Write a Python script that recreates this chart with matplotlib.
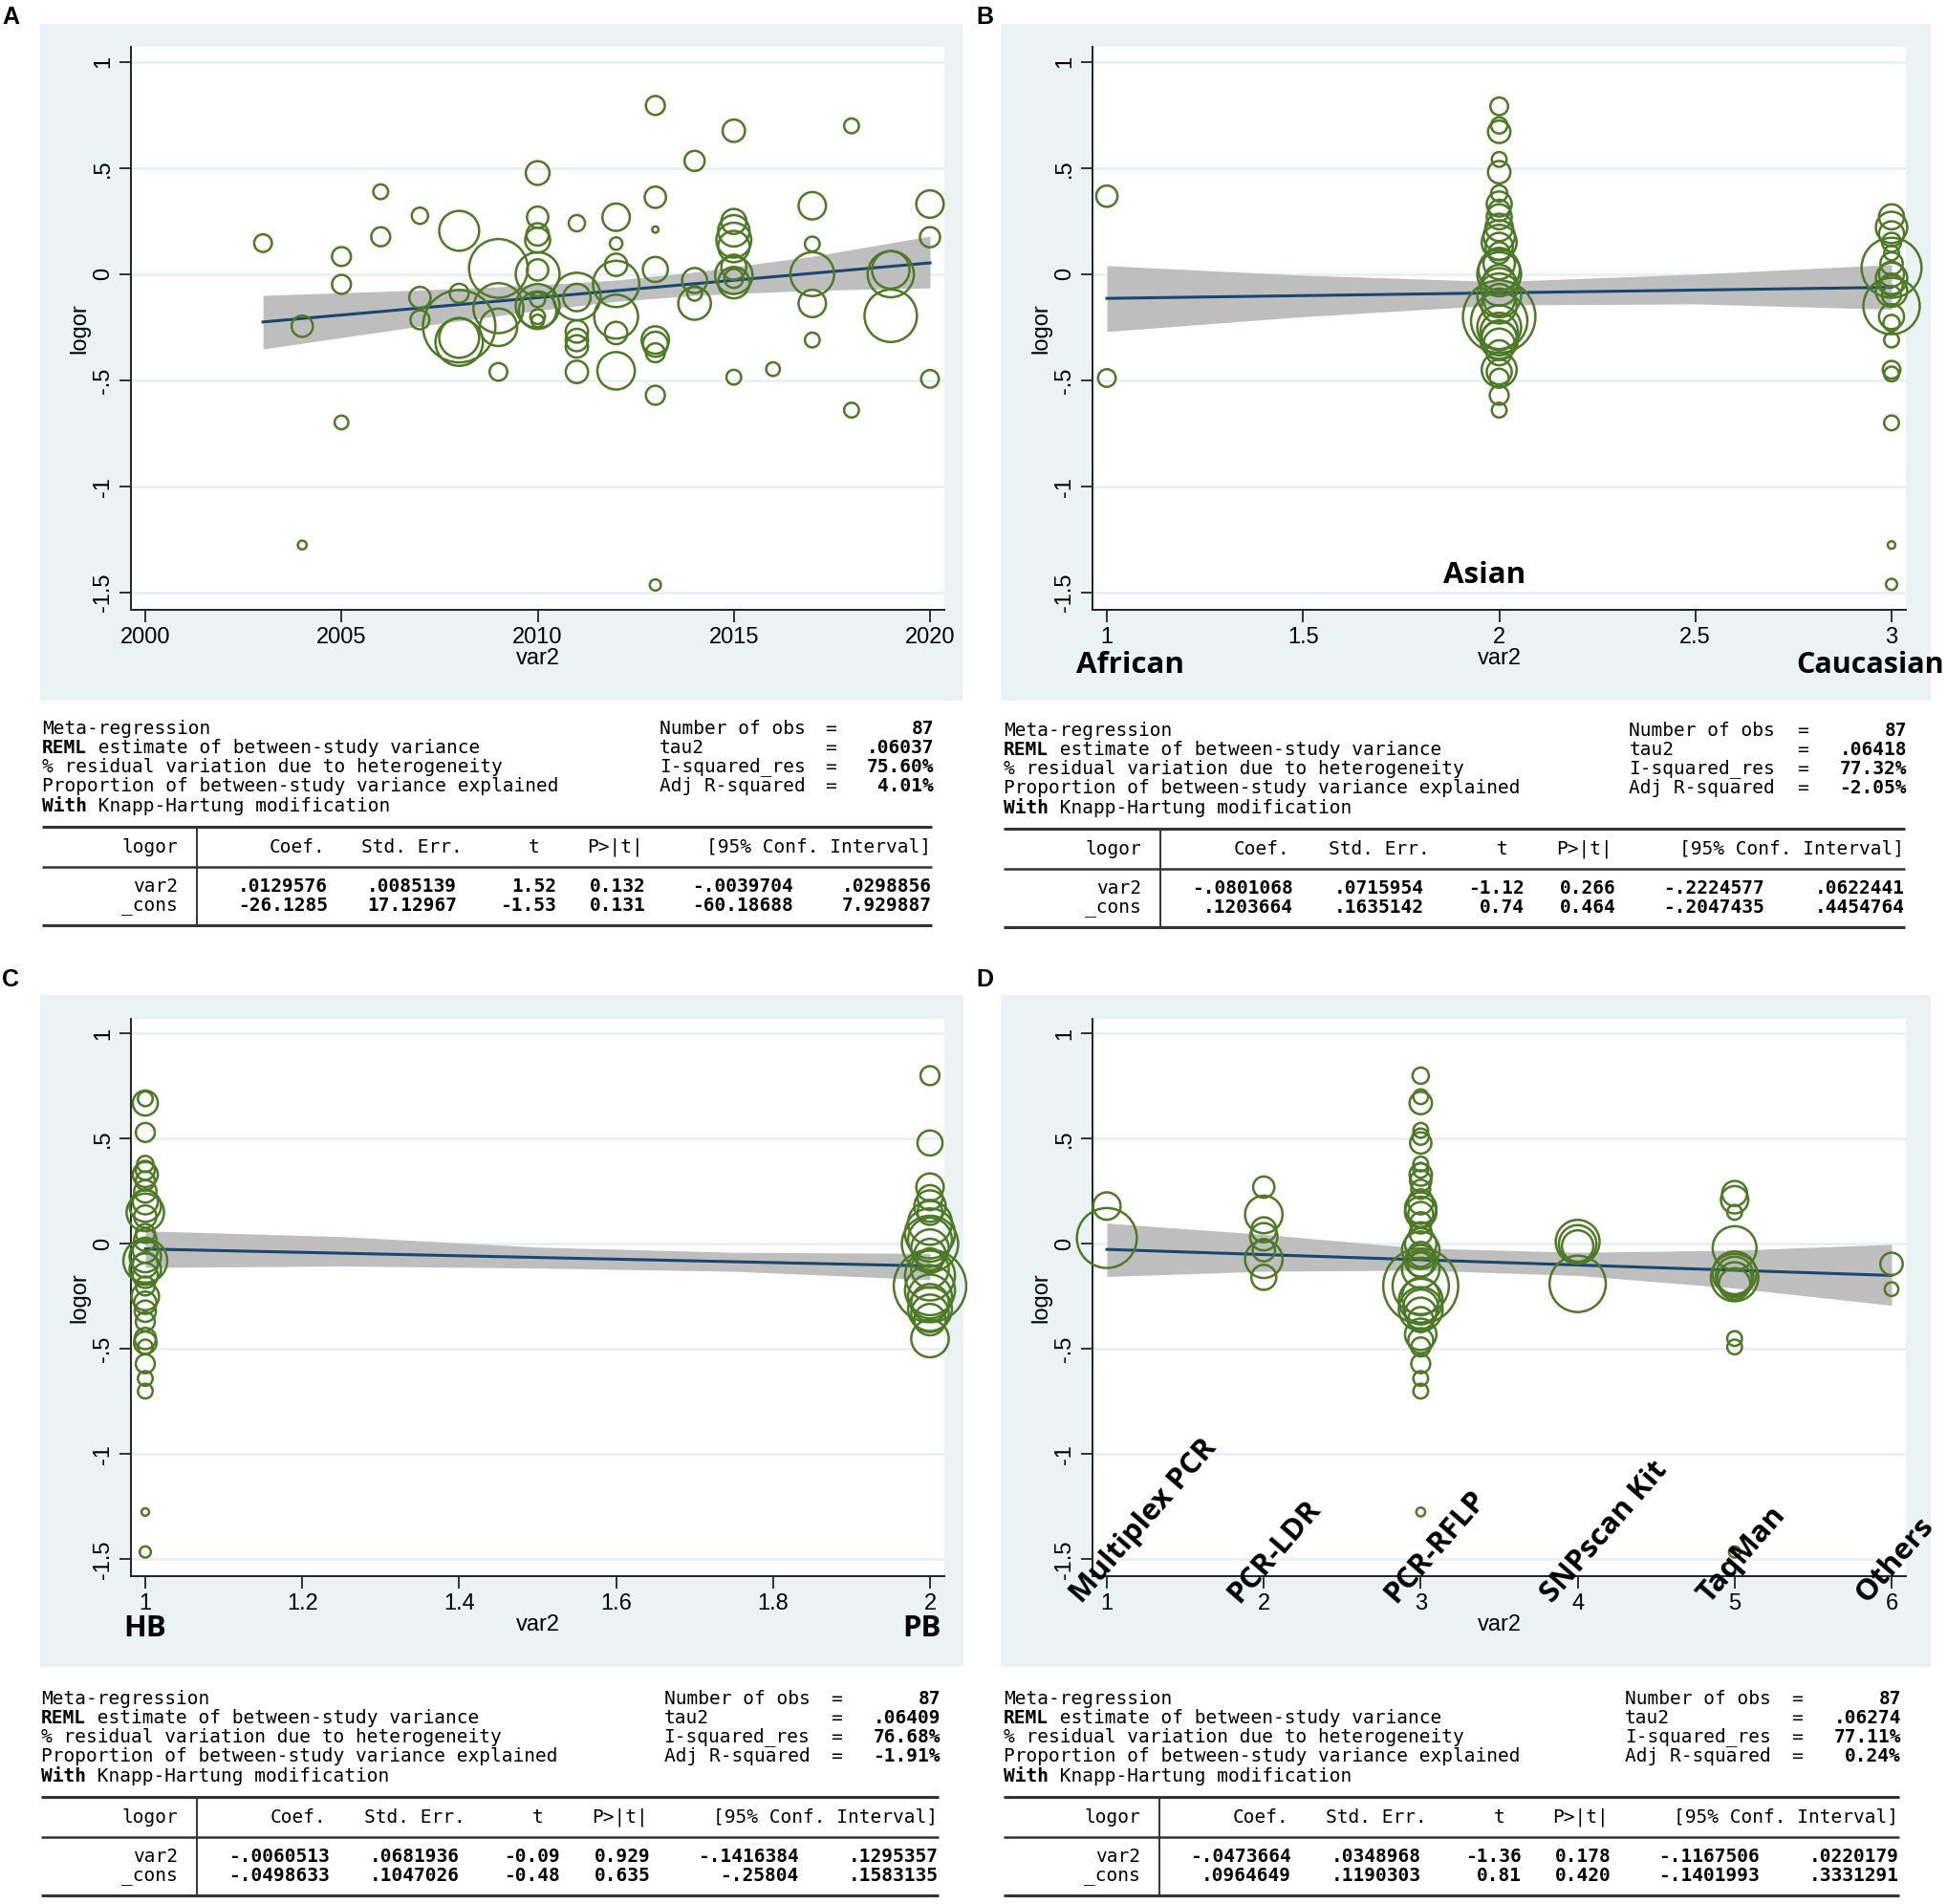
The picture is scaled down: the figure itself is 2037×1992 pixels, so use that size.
import matplotlib
matplotlib.use('Agg')
import matplotlib.pyplot as plt
import matplotlib.transforms as mtransforms
from matplotlib.patches import Rectangle
import numpy as np

W, H = 2037, 1992
GREEN = '#4e7a27'
NAVY = '#1a476f'
BAND = '#bebebe'
BG = '#eaf2f3'
GRID = '#e6eff1'
TICKFONT = ['Liberation Sans', 'DejaVu Sans']
CATFONT = ['Open Sans', 'DejaVu Sans']
MONO = ['DejaVu Sans Mono']

# ---------------- Panel A data (var2 = year) ----------------
a_year = [2003, 2004, 2004, 2005, 2005, 2005, 2006, 2006, 2007, 2007, 2007,
          2008, 2008, 2008, 2008, 2008, 2009, 2009, 2009, 2009,
          2010, 2010, 2010, 2010, 2010, 2010, 2010, 2010, 2010, 2010, 2010,
          2011, 2011, 2011, 2011, 2011, 2011, 2011,
          2012, 2012, 2012, 2012, 2012, 2012, 2012,
          2013, 2013, 2013, 2013, 2013, 2013, 2013, 2013, 2013,
          2014, 2014, 2014, 2014,
          2015, 2015, 2015, 2015, 2015, 2015, 2015, 2015, 2015, 2015,
          2016, 2017, 2017, 2017, 2017, 2017, 2018, 2018,
          2019, 2019, 2019, 2020, 2020, 2020]
a_logor = [0.146, -0.245, -1.275, 0.083, -0.048, -0.698, 0.388, 0.176, 0.275, -0.11, -0.215,
           0.204, -0.09, -0.245, -0.32, -0.30, 0.027, -0.16, -0.25, -0.46,
           0.476, 0.268, 0.187, 0.16, 0.02, 0.0, -0.12, -0.15, -0.17, -0.2, -0.22,
           0.24, -0.105, -0.11, -0.27, -0.31, -0.34, -0.46,
           0.268, 0.144, 0.044, -0.046, -0.2, -0.277, -0.455,
           0.794, 0.362, 0.21, 0.022, -0.31, -0.33, -0.37, -0.57, -1.463,
           0.533, -0.03, -0.09, -0.138,
           0.675, 0.248, 0.204, 0.16, 0.13, 0.033, -0.005, -0.02, -0.04, -0.485,
           -0.447, 0.322, 0.142, 0.0, -0.138, -0.31, 0.698, -0.64,
           0.0, 0.02, -0.196, 0.33, 0.174, -0.493]
a_w = [2.0, 2.9, 0.5, 2.3, 2.3, 1.2, 1.4, 2.3, 1.7, 2.9, 2.3,
       10.2, 2.3, 33.6, 14.4, 10.2, 22.1, 16.0, 9.0, 2.0,
       3.6, 2.9, 3.2, 4.0, 2.9, 12.3, 1.4, 12.3, 9.0, 1.4, 1.0,
       1.7, 14.4, 4.8, 3.2, 3.2, 3.2, 3.2,
       4.8, 1.0, 3.2, 13.7, 12.3, 3.2, 9.0,
       2.3, 2.9, 0.25, 4.0, 4.8, 4.0, 2.3, 2.3, 0.8,
       2.6, 4.0, 1.4, 6.8,
       3.2, 4.0, 6.3, 7.8, 6.3, 4.0, 9.0, 2.3, 6.3, 1.4,
       1.2, 4.8, 1.4, 12.3, 4.8, 1.4, 1.4, 1.4,
       13.7, 9.0, 17.6, 4.8, 2.6, 2.0]
a_line_x = [2003, 2020]
a_line_y = [-0.225, 0.053]
a_band_x = [2003, 2007, 2010, 2012, 2014, 2017, 2020]
a_band_lo = [-0.352, -0.245, -0.171, -0.128, -0.100, -0.076, -0.065]
a_band_hi = [-0.100, -0.075, -0.051, -0.028, 0.010, 0.084, 0.179]

# ---------------- Panel B data (ethnicity) ----------------
b_cat = ['African', 'Asian', 'Caucasian']
b_african_y = [0.367, -0.489]
b_african_w = [2.9, 2.0]
b_asian_y = [0.79, 0.70, 0.67, 0.54, 0.48, 0.38, 0.33, 0.30, 0.27, 0.22, 0.18, 0.15, 0.13, 0.10,
             0.05, 0.02, 0.0, -0.03, -0.06, -0.10, -0.12, -0.15, -0.20, -0.22, -0.25, -0.27,
             -0.30, -0.31, -0.33, -0.37, -0.45, -0.46, -0.49, -0.57, -0.64]
b_asian_w = [2.0, 1.7, 3.2, 1.4, 3.2, 1.7, 4.0, 2.9, 4.0, 4.8, 6.3, 7.8, 4.8, 2.9,
             6.3, 10.9, 12.3, 6.3, 9.0, 12.3, 6.3, 7.8, 33.6, 20.3, 12.3, 9.0,
             7.8, 9.0, 6.3, 4.0, 7.8, 4.0, 2.3, 2.3, 1.4]
b_cauc_y = [0.27, 0.22, 0.19, 0.15, 0.10, 0.05, 0.03, 0.0, -0.02, -0.05, -0.08, -0.10, -0.15,
            -0.20, -0.23, -0.31, -0.45, -0.47, -0.70, -1.275, -1.46]
b_cauc_w = [4.0, 6.3, 4.0, 2.3, 1.4, 3.2, 23.0, 4.0, 6.3, 3.2, 6.3, 2.3, 20.3,
            4.0, 1.7, 1.4, 2.0, 1.4, 1.4, 0.36, 0.8]
b_line_x = [1, 3]
b_line_y = [-0.114, -0.062]
b_band_x = [1, 1.5, 2, 2.5, 3]
b_band_lo = [-0.27, -0.20, -0.145, -0.14, -0.165]
b_band_hi = [0.04, -0.005, -0.035, 0.0, 0.045]

# ---------------- Panel C data (source of controls) ----------------
c_cat = ['HB', 'PB']
c_hb_y = [0.69, 0.67, 0.53, 0.38, 0.35, 0.33, 0.30, 0.25, 0.20, 0.18, 0.15, 0.13, 0.05, 0.02,
          -0.03, -0.06, -0.08, -0.10, -0.12, -0.15, -0.20, -0.25, -0.28, -0.32, -0.37,
          -0.45, -0.47, -0.49, -0.57, -0.64, -0.70, -1.275, -1.465]
c_hb_w = [1.4, 4.0, 2.3, 1.7, 2.3, 4.0, 2.3, 3.2, 4.0, 6.3, 9.0, 3.2, 2.3, 3.2,
          4.0, 6.3, 12.3, 4.0, 6.3, 4.0, 2.3, 4.8, 3.2, 2.9, 2.3,
          2.9, 3.2, 1.4, 2.3, 1.4, 1.4, 0.36, 0.8]
c_pb_y = [0.80, 0.48, 0.27, 0.22, 0.18, 0.15, 0.10, 0.05, 0.02, 0.0, -0.02, -0.05, -0.08,
          -0.12, -0.15, -0.20, -0.22, -0.25, -0.28, -0.31, -0.33, -0.36, -0.45]
c_pb_w = [2.3, 4.0, 4.8, 4.0, 6.3, 4.0, 12.3, 16.0, 12.3, 20.3, 9.0, 6.3, 4.0,
          9.0, 16.0, 33.6, 16.0, 12.3, 9.0, 12.3, 9.0, 6.3, 9.0]
c_line_x = [1, 2]
c_line_y = [-0.024, -0.105]
c_band_x = [1, 1.25, 1.5, 1.75, 2]
c_band_lo = [-0.112, -0.105, -0.115, -0.13, -0.17]
c_band_hi = [0.062, 0.035, -0.015, -0.04, -0.045]

# ---------------- Panel D data (genotyping method) ----------------
d_cat = ['Multiplex PCR', 'PCR-LDR', 'PCR-RFLP', 'SNPscan Kit', 'TaqMan', 'Others']
d_y = [
    [0.18, 0.028],
    [0.27, 0.14, 0.067, 0.034, -0.03, -0.073, -0.159],
    [0.80, 0.70, 0.67, 0.54, 0.51, 0.48, 0.38, 0.35, 0.33, 0.30, 0.26, 0.20, 0.17, 0.15, 0.14,
     0.10, 0.05, 0.0, -0.03, -0.05, -0.08, -0.10, -0.12, -0.20, -0.20, -0.25, -0.27, -0.30,
     -0.31, -0.33, -0.36, -0.43, -0.46, -0.49, -0.57, -0.64, -0.70, -1.275],
    [0.01, 0.0, -0.01, -0.19],
    [0.24, 0.21, 0.15, -0.02, -0.14, -0.15, -0.16, -0.17, -0.19, -0.45, -0.49, -1.465],
    [-0.095, -0.215],
]
d_w = [
    [4.8, 23.0],
    [2.9, 9.0, 4.0, 4.8, 3.2, 9.0, 4.0],
    [1.7, 1.4, 3.2, 1.4, 1.7, 2.9, 1.4, 1.4, 3.2, 2.9, 2.3, 4.0, 6.3, 6.3, 4.0,
     2.9, 3.2, 6.3, 9.0, 4.0, 6.3, 4.0, 9.0, 36.0, 20.3, 9.0, 12.3, 7.8,
     12.3, 6.3, 4.0, 6.3, 4.0, 2.3, 2.3, 1.4, 1.4, 0.5],
    [12.3, 9.0, 6.3, 20.3],
    [4.0, 4.8, 1.4, 12.3, 12.3, 9.0, 14.4, 7.8, 6.3, 1.4, 1.4, 0.8],
    [3.2, 1.2],
]
d_line_x = [1, 6]
d_line_y = [-0.026, -0.15]
d_band_x = [1, 2, 3, 4, 5, 6]
d_band_lo = [-0.155, -0.13, -0.125, -0.15, -0.21, -0.292]
d_band_hi = [0.099, 0.045, -0.02, -0.04, -0.03, -0.002]

# ---------------- Tick labels ----------------
y_ticks = [-1.5, -1, -0.5, 0, 0.5, 1]
y_ticklabels = ['-1.5', '-1', '-.5', '0', '.5', '1']
a_xticks = [2000, 2005, 2010, 2015, 2020]
b_xticks = [1, 1.5, 2, 2.5, 3]
b_xticklabels = ['1', '1.5', '2', '2.5', '3']
c_xticks = [1, 1.2, 1.4, 1.6, 1.8, 2]
c_xticklabels = ['1', '1.2', '1.4', '1.6', '1.8', '2']
d_xticks = [1, 2, 3, 4, 5, 6]

# ---------------- Regression output tables ----------------
stat_labels = ['Number of obs', 'tau2', 'I-squared_res', 'Adj R-squared']
a_stats = ['87', '.06037', '75.60%', '4.01%']
b_stats = ['87', '.06418', '77.32%', '-2.05%']
c_stats = ['87', '.06409', '76.68%', '-1.91%']
d_stats = ['87', '.06274', '77.11%', '0.24%']
header = ['logor', 'Coef.', 'Std. Err.', 't', 'P>|t|', '[95% Conf. Interval]']
row_names = ['var2', '_cons']
a_var2 = ['.0129576', '.0085139', '1.52', '0.132', '-.0039704', '.0298856']
a_cons = ['-26.1285', '17.12967', '-1.53', '0.131', '-60.18688', '7.929887']
b_var2 = ['-.0801068', '.0715954', '-1.12', '0.266', '-.2224577', '.0622441']
b_cons = ['.1203664', '.1635142', '0.74', '0.464', '-.2047435', '.4454764']
c_var2 = ['-.0060513', '.0681936', '-0.09', '0.929', '-.1416384', '.1295357']
c_cons = ['-.0498633', '.1047026', '-0.48', '0.635', '-.25804', '.1583135']
d_var2 = ['-.0473664', '.0348968', '-1.36', '0.178', '-.1167506', '.0220179']
d_cons = ['.0964649', '.1190303', '0.81', '0.420', '-.1401993', '.3331291']

# =====================================================================
fig = plt.figure(figsize=(W / 100, H / 100), dpi=100)
bg = fig.add_axes([0, 0, 1, 1], zorder=0)
bg.set_xlim(0, W)
bg.set_ylim(H, 0)
bg.axis('off')

bg_boxes = [(42, 25, 1007, 733), (1047, 25, 2020, 733),
            (42, 1041, 1008, 1744), (1047, 1041, 2020, 1744)]
for (l, t, r, b) in bg_boxes:
    bg.add_patch(Rectangle((l, t), r - l, b - t, facecolor=BG, edgecolor='none', zorder=0))

for lab, (x, y) in zip(['A', 'B', 'C', 'D'], [(2, 18), (1021, 18), (2, 1025), (1021, 1025)]):
    bg.text(x, y, lab, fontsize=18, fontweight='bold', family=TICKFONT, ha='left', va='center')


def px_axes(l, t, r, b):
    ax = fig.add_axes([l / W, 1 - b / H, (r - l) / W, (b - t) / H], zorder=1)
    ax.set_facecolor('white')
    return ax


def style(ax, xticks, xlabels, xlo, xhi):
    pad = (xhi - xlo) * 0.0183
    ax.set_xlim(xlo - pad, xhi + pad)
    ax.set_ylim(-1.58, 1.07)
    ax.set_yticks(y_ticks)
    ax.set_yticklabels(y_ticklabels, rotation=90, va='center', fontsize=17, family=TICKFONT)
    ax.set_xticks(xticks)
    ax.set_xticklabels(xlabels, fontsize=17, family=TICKFONT)
    for s in ['top', 'right']:
        ax.spines[s].set_visible(False)
    for s in ['left', 'bottom']:
        ax.spines[s].set_linewidth(1.4)
        ax.spines[s].set_color('#222222')
    ax.tick_params(length=9, width=1.3, pad=4, color='#222222')
    for yv in y_ticks:
        ax.axhline(yv, color=GRID, lw=1.8, zorder=0.5)
    ax.set_xlabel('var2', fontsize=17, family=TICKFONT, labelpad=0)
    ax.set_ylabel('logor', fontsize=17, family=TICKFONT, labelpad=2)


def fit(ax, bx, lo, hi, lx, ly):
    ax.fill_between(bx, lo, hi, color=BAND, lw=0, zorder=1)
    ax.plot(lx, ly, color=NAVY, lw=2.2, zorder=2)


def bubbles(ax, x, y, w):
    ax.scatter(x, y, s=np.asarray(w) * 88.6, facecolors='none', edgecolors=GREEN,
               linewidths=1.8, zorder=3, clip_on=False)


# Panel A
axA = px_axes(137, 49, 988, 638)
style(axA, a_xticks, [str(v) for v in a_xticks], 2000, 2020)
fit(axA, a_band_x, a_band_lo, a_band_hi, a_line_x, a_line_y)
bubbles(axA, a_year, a_logor, a_w)

# Panel B
axB = px_axes(1143, 49, 1994, 638)
style(axB, b_xticks, b_xticklabels, 1, 3)
fit(axB, b_band_x, b_band_lo, b_band_hi, b_line_x, b_line_y)
for xv, yy, ww in zip([1, 2, 3], [b_african_y, b_asian_y, b_cauc_y], [b_african_w, b_asian_w, b_cauc_w]):
    bubbles(axB, [xv] * len(yy), yy, ww)
axB.text(1.963, -1.418, b_cat[1], ha='center', va='center', fontsize=22.5,
         fontweight='bold', family=CATFONT)
axB.text(1.06, -1.84, b_cat[0], ha='center', va='center', fontsize=22.5,
         fontweight='bold', family=CATFONT, clip_on=False)
# right-aligned to the figure edge so it is not cut off
trB = mtransforms.blended_transform_factory(bg.transData, axB.transData)
axB.text(2034, -1.84, b_cat[2], ha='right', va='center', fontsize=22,
         fontweight='bold', family=CATFONT, clip_on=False, transform=trB)

# Panel C
axC = px_axes(137, 1066, 988, 1649)
style(axC, c_xticks, c_xticklabels, 1, 2)
fit(axC, c_band_x, c_band_lo, c_band_hi, c_line_x, c_line_y)
for xv, yy, ww in zip([1, 2], [c_hb_y, c_pb_y], [c_hb_w, c_pb_w]):
    bubbles(axC, [xv] * len(yy), yy, ww)
for xv, lab in zip([1.0, 1.99], c_cat):
    axC.text(xv, -1.83, lab, ha='center', va='center', fontsize=22.5,
             fontweight='bold', family=CATFONT, clip_on=False)

# Panel D
axD = px_axes(1143, 1066, 1994, 1649)
style(axD, d_xticks, [str(v) for v in d_xticks], 1, 6)
fit(axD, d_band_x, d_band_lo, d_band_hi, d_line_x, d_line_y)
for i, (yy, ww) in enumerate(zip(d_y, d_w)):
    bubbles(axD, [d_xticks[i]] * len(yy), yy, ww)
trD = mtransforms.blended_transform_factory(axD.transData, axD.transAxes)
for xv, lab in zip(d_xticks, d_cat):
    axD.text(xv - 0.16, -0.05, lab, transform=trD, rotation=49, rotation_mode='anchor',
             ha='left', va='baseline', fontsize=22.5, fontweight='bold', family=CATFONT,
             clip_on=False)

# ---------------- Tables ----------------
FS = 14
CW = 0.6021 * FS * 100 / 72  # mono character advance in px


def table(x0, x1, dy, stats, var2row, consrow):
    sx = (x1 - x0) / (975 - 44)

    def X(x):
        return x0 + (x - 44) * sx

    def Y(y):
        return y + dy

    ly = [762, 782, 802, 822, 843]
    bg.text(X(44), Y(ly[0]), 'Meta-regression', family=MONO, fontsize=FS, va='center')
    bg.text(X(44), Y(ly[1]), 'REML', family=MONO, fontsize=FS, va='center', fontweight='bold')
    bg.text(X(44) + 4 * CW, Y(ly[1]), ' estimate of between-study variance', family=MONO,
            fontsize=FS, va='center')
    bg.text(X(44), Y(ly[2]), '% residual variation due to heterogeneity', family=MONO,
            fontsize=FS, va='center')
    bg.text(X(44), Y(ly[3]), 'Proportion of between-study variance explained', family=MONO,
            fontsize=FS, va='center')
    bg.text(X(44), Y(ly[4]), 'With', family=MONO, fontsize=FS, va='center', fontweight='bold')
    bg.text(X(44) + 4 * CW, Y(ly[4]), ' Knapp-Hartung modification', family=MONO,
            fontsize=FS, va='center')
    for i in range(4):
        bg.text(X(690), Y(ly[i]), stat_labels[i], family=MONO, fontsize=FS, va='center')
        bg.text(X(869), Y(ly[i]), '=', family=MONO, fontsize=FS, va='center', ha='center')
        bg.text(X(977), Y(ly[i]), stats[i], family=MONO, fontsize=FS, va='center', ha='right',
                fontweight='bold')
    # rules
    for yy, lw in [(865, 2.2), (907, 1.8), (968, 2.2)]:
        bg.plot([X(44), X(975)], [Y(yy), Y(yy)], color='#333333', lw=lw, solid_capstyle='butt')
    bg.plot([X(206), X(206)], [Y(865), Y(968)], color='#333333', lw=1.4)
    hx = [186, 340, 484, 565, 673, 974]
    for h, xx in zip(header, hx):
        bg.text(X(xx), Y(886), h, family=MONO, fontsize=FS, va='center', ha='right')
    vx = [343, 478, 582, 676, 830, 975]
    for r, (name, vals) in enumerate(zip(row_names, [var2row, consrow])):
        yy = Y(927 + 20 * r)
        bg.text(X(186), yy, name, family=MONO, fontsize=FS, va='center', ha='right')
        for v, xx in zip(vals, vx):
            bg.text(X(xx), yy, v, family=MONO, fontsize=FS, va='center', ha='right',
                    fontweight='bold')


table(44, 975, 0, a_stats, a_var2, a_cons)
table(1050, 1993, 2, b_stats, b_var2, b_cons)
table(43, 982, 1015, c_stats, c_var2, c_cons)
table(1050, 1987, 1015, d_stats, d_var2, d_cons)

fig.savefig('out.png', dpi=100)
